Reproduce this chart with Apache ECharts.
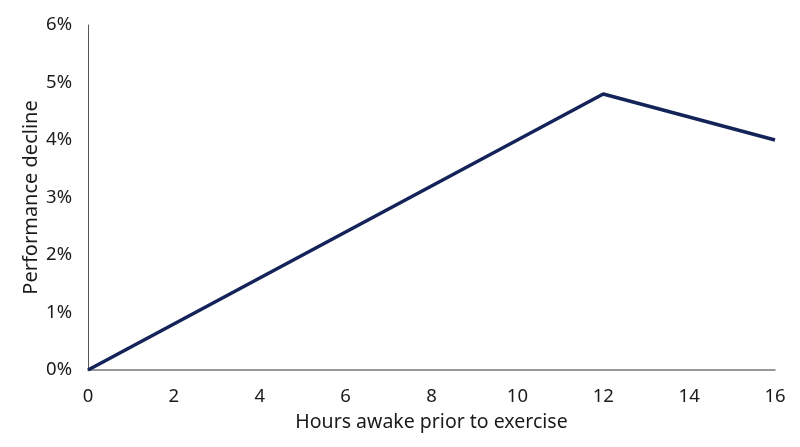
<!DOCTYPE html>
<html>
<head>
<meta charset="utf-8">
<script src="https://cdn.jsdelivr.net/npm/echarts@6/dist/echarts.min.js"></script>
<style>
  html, body { margin: 0; padding: 0; background: #fff; }
  #chart { width: 800px; height: 447px; }
</style>
</head>
<body>
<div id="chart"></div>
<script>
// hours awake vs. performance decline (%)
const hours = [0, 12, 16];
const decline = [0, 4.8, 4.0];

const chart = echarts.init(document.getElementById("chart"));

const FONT = "Noto Sans";
const TEXT = "#1a1a1a";

chart.setOption({
  animation: false,
  textStyle: { fontFamily: FONT },
  grid: { left: 88, right: 25, top: 25, bottom: 77 },
  xAxis: {
    type: "value",
    min: 0,
    max: 16,
    interval: 2,
    name: "Hours awake prior to exercise",
    nameLocation: "middle",
    nameGap: 42,
    nameMoveOverlap: false,
    nameTextStyle: { fontSize: 19.5, color: TEXT, fontFamily: FONT },
    axisLine: { show: true, lineStyle: { color: "#777", width: 1.5 } },
    axisTick: { show: false },
    splitLine: { show: false },
    axisLabel: { fontSize: 18.5, color: TEXT, margin: 17, fontFamily: FONT }
  },
  yAxis: {
    type: "value",
    min: 0,
    max: 6,
    interval: 1,
    name: "Performance decline",
    nameLocation: "middle",
    nameGap: 47,
    nameMoveOverlap: false,
    nameTextStyle: { fontSize: 20, color: TEXT, fontFamily: FONT },
    axisLine: { show: true, lineStyle: { color: "#555", width: 1 } },
    axisTick: { show: false },
    splitLine: { show: false },
    axisLabel: { fontSize: 18.5, color: TEXT, margin: 16, fontFamily: FONT, formatter: v => v + "%" }
  },
  series: [{
    type: "line",
    data: hours.map((h, i) => [h, decline[i]]),
    showSymbol: false,
    lineStyle: { color: "#14245a", width: 3.5 }
  }]
});
</script>
</body>
</html>
